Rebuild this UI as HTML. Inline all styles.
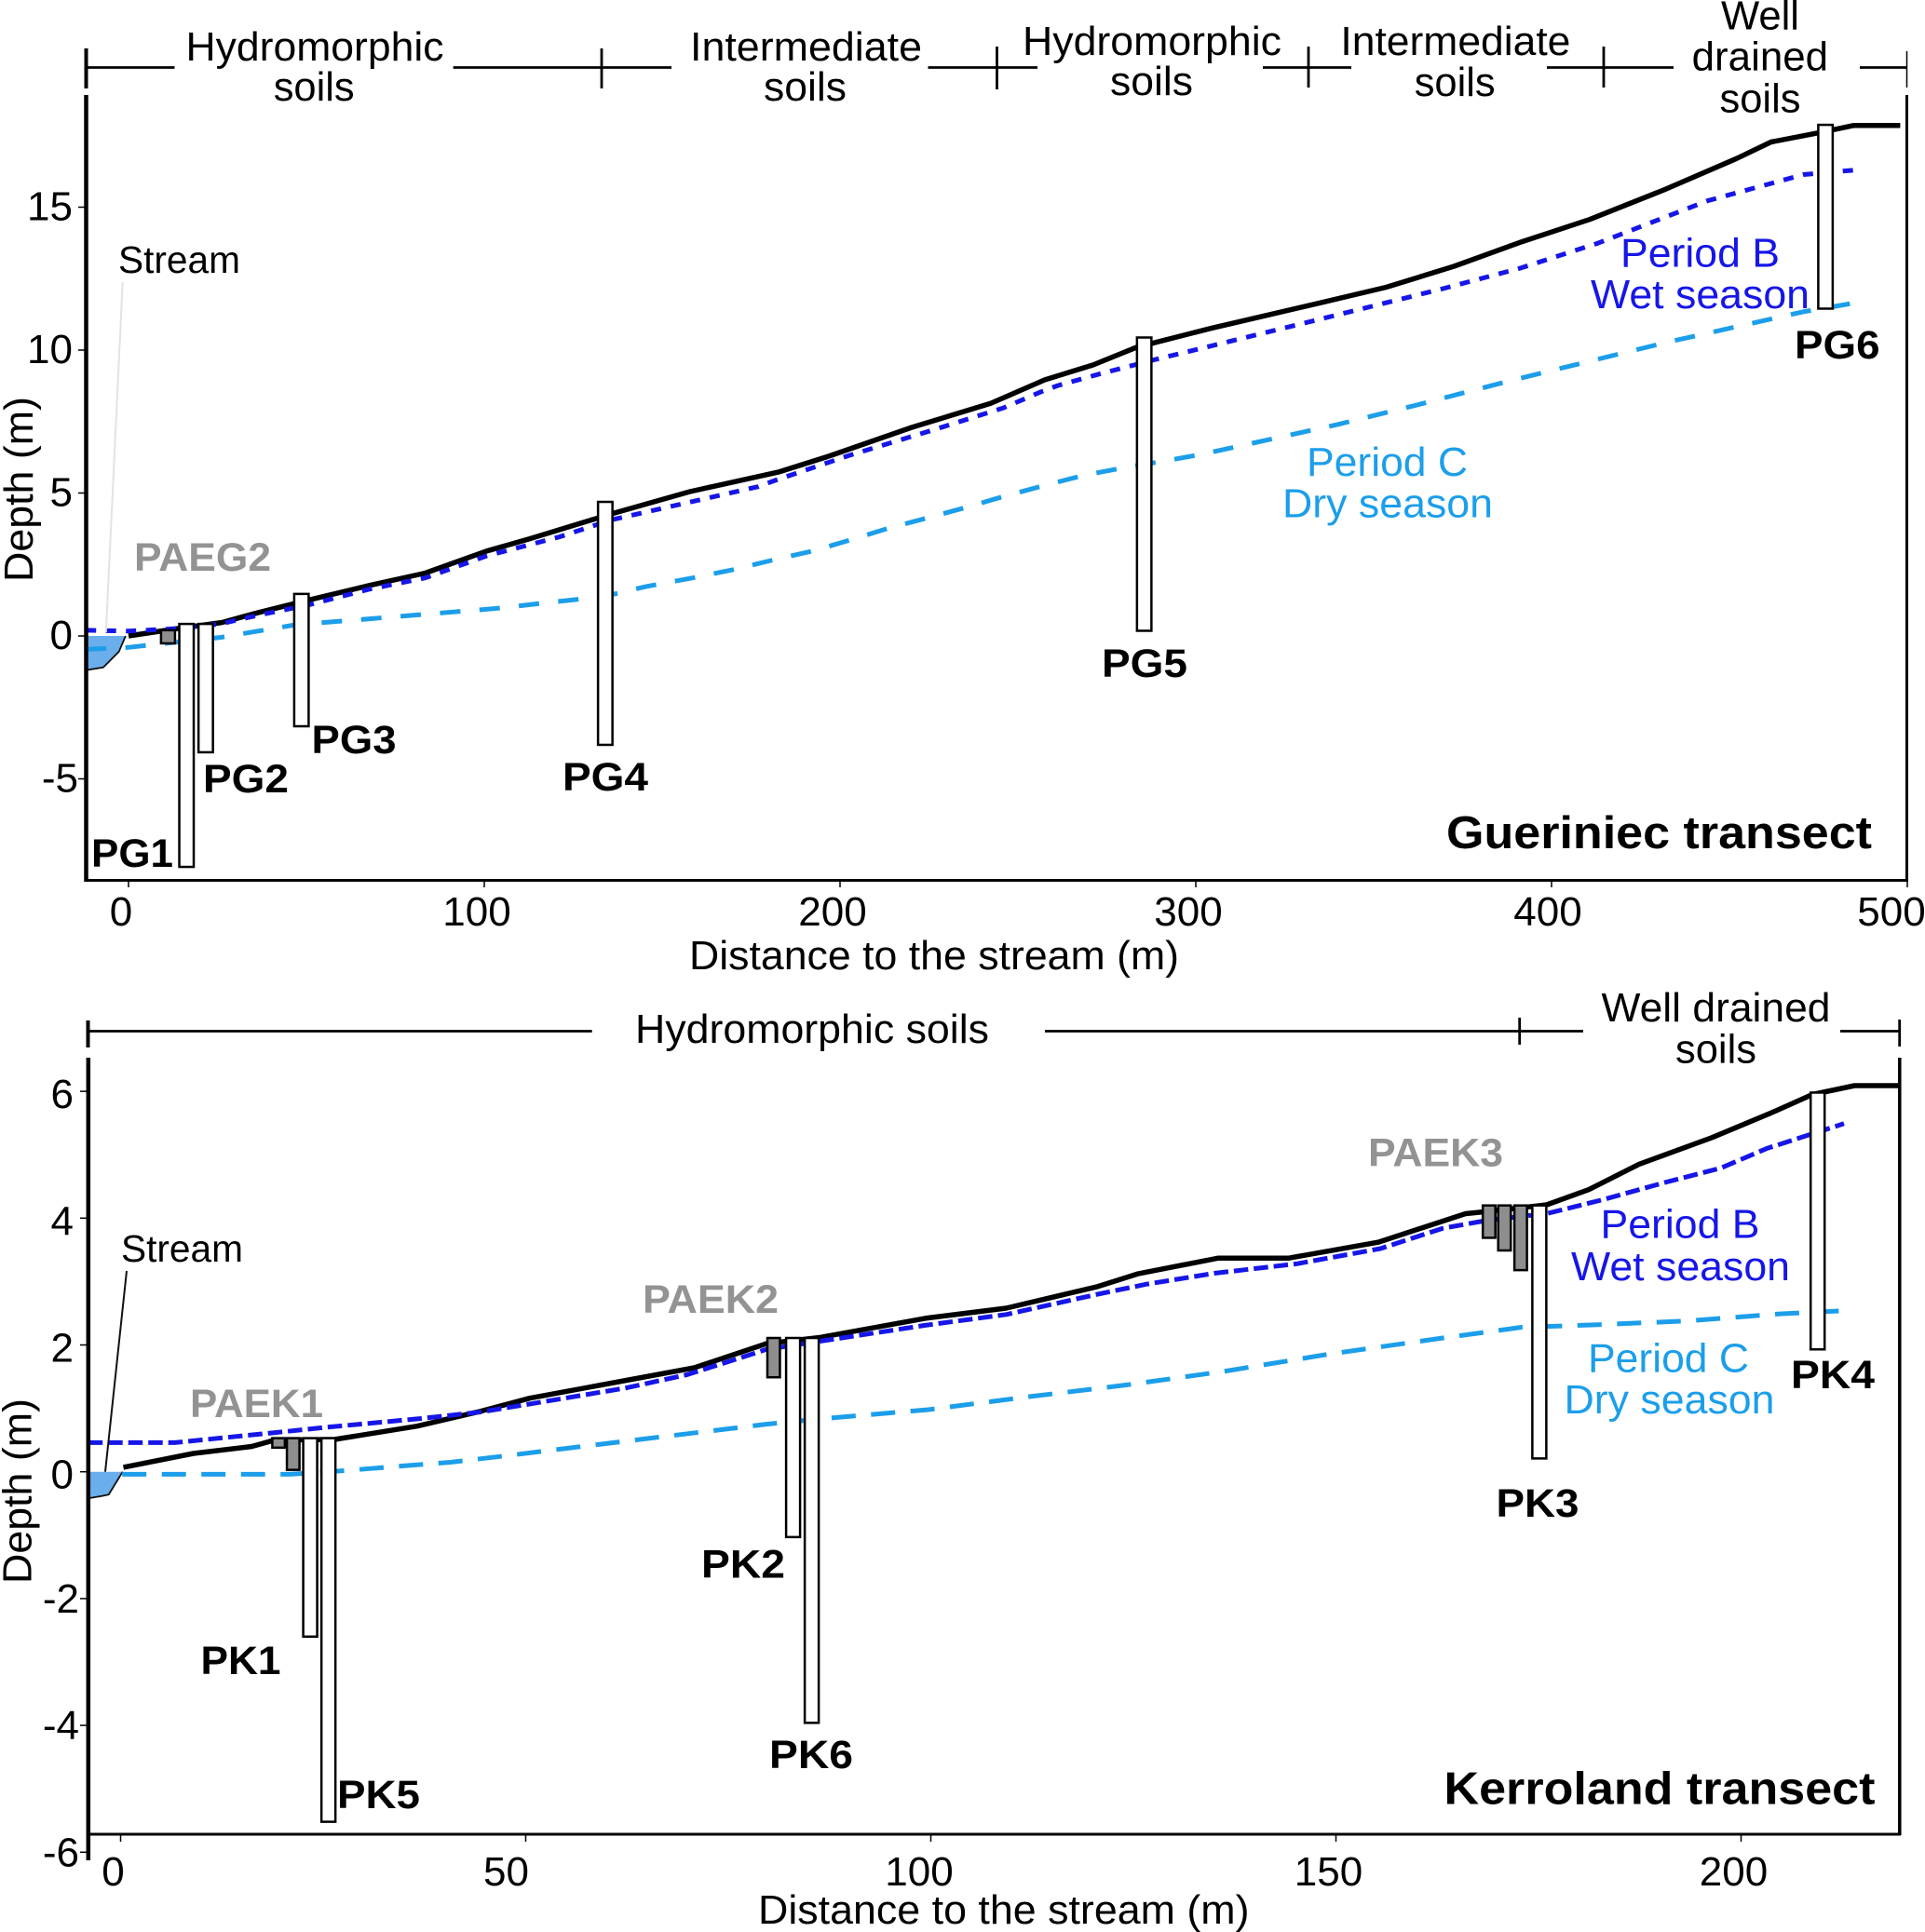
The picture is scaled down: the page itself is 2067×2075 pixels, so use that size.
<!DOCTYPE html>
<html lang="en">
<head>
<meta charset="utf-8">
<title>Gueriniec and Kerroland transects</title>
<style>
html,body{margin:0;padding:0;background:#fff;width:2067px;height:2075px;overflow:hidden}
svg{display:block}
text{font-family:"Liberation Sans",sans-serif;fill:#000}
.lab{font-size:44px}
.well{font-size:43px;font-weight:bold}
.pae{font-size:43px;font-weight:bold;fill:#939393}
.title{font-size:49px;font-weight:bold}
.wet{font-size:44px;fill:#1616e8}
.dry{font-size:44px;fill:#1c9eea}
.tick{font-size:44px}
.str{font-size:41px}
.br{stroke:#000;stroke-width:2.8;fill:none}
</style>
</head>
<body>
<svg id="chart" xmlns="http://www.w3.org/2000/svg" width="2067" height="2075" viewBox="0 0 2067 2075">
<rect x="0" y="0" width="2067" height="2075" fill="#fff"/>

<g id="p1">
  <g id="p1-stream"></g>
  <g id="p1-lines"></g>
  <g id="p1-wells"></g>
  <g id="p1-axes"></g>
  <line x1="92.5" y1="102" x2="92.5" y2="947" stroke="#000" stroke-width="4.5"/>
  <line x1="2047.5" y1="102" x2="2047.5" y2="947" stroke="#000" stroke-width="3"/>
  <line x1="92" y1="945.5" x2="2049" y2="945.5" stroke="#000" stroke-width="3"/>

  <g>
    <path class="br" d="M92 72.5H187.5M486.6 72.5H721M996.5 72.5H1114M1356 72.5H1451M1661 72.5H1797M1997 72.5H2048"/>
    <path class="br" d="M646 52V95M1070.5 50V96M1405 50V94M1722 50V94"/>
    <path d="M92.5 52V95" stroke="#000" stroke-width="4" fill="none"/>
    <path d="M2047.5 55V94" stroke="#000" stroke-width="1.5" fill="none"/>
    <text class="lab" x="199.5" y="65" textLength="277" lengthAdjust="spacingAndGlyphs">Hydromorphic</text>
    <text class="lab" x="293.7" y="108" textLength="87" lengthAdjust="spacingAndGlyphs">soils</text>
    <text class="lab" x="741" y="65" textLength="249" lengthAdjust="spacingAndGlyphs">Intermediate</text>
    <text class="lab" x="820" y="108" textLength="89" lengthAdjust="spacingAndGlyphs">soils</text>
    <text class="lab" x="1098" y="59" textLength="278" lengthAdjust="spacingAndGlyphs">Hydromorphic</text>
    <text class="lab" x="1192" y="102" textLength="89" lengthAdjust="spacingAndGlyphs">soils</text>
    <text class="lab" x="1439.4" y="59" textLength="247" lengthAdjust="spacingAndGlyphs">Intermediate</text>
    <text class="lab" x="1518.7" y="103" textLength="87" lengthAdjust="spacingAndGlyphs">soils</text>
    <text class="lab" x="1848" y="31.5" textLength="84" lengthAdjust="spacingAndGlyphs">Well</text>
    <text class="lab" x="1816.6" y="75.7" textLength="146.5" lengthAdjust="spacingAndGlyphs">drained</text>
    <text class="lab" x="1846.5" y="120.5" textLength="87" lengthAdjust="spacingAndGlyphs">soils</text>
  </g>

  <text class="lab" x="740" y="1041" textLength="526" lengthAdjust="spacingAndGlyphs">Distance to the stream (m)</text>
  <text class="lab" transform="translate(35,625) rotate(-90)" textLength="199" lengthAdjust="spacingAndGlyphs">Depth (m)</text>

  <line x1="131.7" y1="303" x2="113.8" y2="679" stroke="#e3e3e3" stroke-width="2"/>
  <text class="str" x="127" y="293" textLength="131" lengthAdjust="spacingAndGlyphs">Stream</text>
  <text class="pae" x="144" y="613" textLength="147" lengthAdjust="spacingAndGlyphs">PAEG2</text>
  <text class="well" x="98" y="931" textLength="88" lengthAdjust="spacingAndGlyphs">PG1</text>
  <text class="well" x="218" y="851" textLength="92" lengthAdjust="spacingAndGlyphs">PG2</text>
  <text class="well" x="334.5" y="809" textLength="91" lengthAdjust="spacingAndGlyphs">PG3</text>
  <text class="well" x="604" y="849" textLength="92" lengthAdjust="spacingAndGlyphs">PG4</text>
  <text class="well" x="1183" y="727" textLength="92" lengthAdjust="spacingAndGlyphs">PG5</text>
  <text class="well" x="1927" y="385" textLength="91.5" lengthAdjust="spacingAndGlyphs">PG6</text>
  <text class="wet" x="1740" y="286.7" textLength="171" lengthAdjust="spacingAndGlyphs">Period B</text>
  <text class="wet" x="1708" y="331" textLength="235" lengthAdjust="spacingAndGlyphs">Wet season</text>
  <text class="dry" x="1403" y="511" textLength="173" lengthAdjust="spacingAndGlyphs">Period C</text>
  <text class="dry" x="1377" y="555.5" textLength="226" lengthAdjust="spacingAndGlyphs">Dry season</text>
  <text class="title" x="1553" y="911" textLength="457" lengthAdjust="spacingAndGlyphs">Gueriniec transect</text>
</g>

<g id="p2">
  <g id="p2-stream"></g>
  <g id="p2-lines"></g>
  <g id="p2-wells"></g>
  <g id="p2-axes"></g>
  <line x1="94.8" y1="1136" x2="94.8" y2="1998" stroke="#000" stroke-width="4.5"/>
  <line x1="2039.8" y1="1136" x2="2039.8" y2="1971" stroke="#000" stroke-width="3.5"/>
  <line x1="94" y1="1970" x2="2041" y2="1970" stroke="#000" stroke-width="3"/>

  <g>
    <path class="br" d="M94 1107.5H635.7M1122 1107.5H1700M1976 1107.5H2040"/>
    <path class="br" d="M1631.7 1093V1122M2039.7 1095V1124"/>
    <path d="M94.5 1096V1125" stroke="#000" stroke-width="4" fill="none"/>
    <text class="lab" x="682" y="1120" textLength="380" lengthAdjust="spacingAndGlyphs">Hydromorphic soils</text>
    <text class="lab" x="1719.5" y="1097" textLength="246" lengthAdjust="spacingAndGlyphs">Well drained</text>
    <text class="lab" x="1799" y="1141.5" textLength="87" lengthAdjust="spacingAndGlyphs">soils</text>
  </g>

  <text class="lab" x="814" y="2066" textLength="527.5" lengthAdjust="spacingAndGlyphs">Distance to the stream (m)</text>
  <text class="lab" transform="translate(33.5,1701) rotate(-90)" textLength="199" lengthAdjust="spacingAndGlyphs">Depth (m)</text>

  <line x1="136" y1="1365" x2="113" y2="1580.7" stroke="#111" stroke-width="2"/>
  <text class="str" x="130" y="1355" textLength="131" lengthAdjust="spacingAndGlyphs">Stream</text>
  <text class="pae" x="204" y="1522" textLength="143" lengthAdjust="spacingAndGlyphs">PAEK1</text>
  <text class="pae" x="690" y="1410" textLength="146" lengthAdjust="spacingAndGlyphs">PAEK2</text>
  <text class="pae" x="1469" y="1252.6" textLength="145" lengthAdjust="spacingAndGlyphs">PAEK3</text>
  <text class="well" x="215.5" y="1798" textLength="86" lengthAdjust="spacingAndGlyphs">PK1</text>
  <text class="well" x="753" y="1694.5" textLength="90" lengthAdjust="spacingAndGlyphs">PK2</text>
  <text class="well" x="1606.5" y="1629" textLength="89" lengthAdjust="spacingAndGlyphs">PK3</text>
  <text class="well" x="1923" y="1491" textLength="90" lengthAdjust="spacingAndGlyphs">PK4</text>
  <text class="well" x="362" y="1942" textLength="89" lengthAdjust="spacingAndGlyphs">PK5</text>
  <text class="well" x="826" y="1899" textLength="90" lengthAdjust="spacingAndGlyphs">PK6</text>
  <text class="wet" x="1718.5" y="1329.7" textLength="171" lengthAdjust="spacingAndGlyphs">Period B</text>
  <text class="wet" x="1687" y="1374.8" textLength="235" lengthAdjust="spacingAndGlyphs">Wet season</text>
  <text class="dry" x="1705" y="1473.5" textLength="173" lengthAdjust="spacingAndGlyphs">Period C</text>
  <text class="dry" x="1679.5" y="1518" textLength="226" lengthAdjust="spacingAndGlyphs">Dry season</text>
  <text class="title" x="1550.5" y="1937.6" textLength="463" lengthAdjust="spacingAndGlyphs">Kerroland transect</text>
</g>
</svg>

<script>
// ---- Gueriniec transect data (distance m, elevation m) ----
const gGroundDist = [0,14,26.2,36.6,50.5,67.8,83.4,100.7,112.8,136,157.8,182.9,196.9,220.3,242.4,257.6,271.1,283.4,304.2,334.5,353.5,372.6,391.7,410.7,431.5,452,461.7,475,485,498];
const gGroundElev = [0,0.26,0.47,0.82,1.25,1.77,2.2,2.97,3.4,4.28,5.05,5.74,6.29,7.3,8.14,8.96,9.48,10.1,10.76,11.64,12.2,12.93,13.79,14.57,15.6,16.7,17.28,17.6,17.86,17.86];
const gWetDist = [-12,0,14,26.2,36.6,50.5,67.8,83.4,100.7,121,136,177,181.7,202.7,226,246,256.5,261.2,272.8,288,304.2,336.2,369.5,391.3,413,443.8,470.8,485.4];
const gWetElev = [0.2,0.17,0.26,0.43,0.73,1.08,1.64,2.03,2.8,3.46,4.07,5.22,5.44,6.32,7.2,7.98,8.54,8.76,9.16,9.65,10.14,11.12,12.15,12.87,13.74,15.22,16.14,16.3];
const gDryDist = [-12,0,26,47,67.8,102.4,133.6,145.5,159.4,170,181,192.3,202.7,213.9,224.9,235.5,246,257,268.2,278.7,290.3,301.5,340,361.8,388.8,432,470.7,488];
const gDryElev = [-0.47,-0.4,-0.05,0.39,0.6,0.95,1.38,1.73,2.05,2.32,2.65,2.97,3.35,3.78,4.14,4.5,4.88,5.25,5.61,5.86,6.1,6.35,7.4,8.07,8.94,10.26,11.34,11.71];
const gStreamDist = [-12,-0.8,-2.7,-7.1,-12];
const gStreamElev = [0,0,-0.55,-1.1,-1.2];
const gWellNames = ['pg1','pg2','pg3','pg4','pg5','pg6'];
const gWellDist = [16.3,21.7,48.6,134,285.5,477];
const gWellTop = [0.42,0.42,1.47,4.69,10.44,17.88];
const gWellBottom = [-8.08,-4.07,-3.16,-3.81,0.18,11.45];
const gPaeNames = ['paeg2'];
const gPaeDist = [11.1];
const gPaeTop = [0.2];
const gPaeBottom = [-0.26];
const gXTicks = [0,100,200,300,400,500];
const gYTicks = [15,10,5,0,-5];

// ---- Kerroland transect data (distance m, elevation m) ----
const kGroundDist = [0.35,9,16.2,19,26.4,36.6,44.3,50.5,70.8,79.7,86.4,99.3,109.3,120.6,125.5,135.5,144.2,155.2,166,168.3,176,181.2,187.4,196.4,203.7,208.8,214,219.6];
const kGroundElev = [0.07,0.29,0.4,0.5,0.51,0.72,0.95,1.16,1.64,2.02,2.12,2.42,2.58,2.92,3.12,3.37,3.37,3.62,4.07,4.1,4.21,4.45,4.85,5.27,5.66,5.95,6.09,6.09];
const kWetDist = [-4,6.7,18.4,25.3,37.1,44.3,51,62.3,69.9,74.6,79.7,86.4,99.3,109.3,120.6,126.7,135,145.2,155.5,163.2,168.9,176,182.9,190.8,197.5,203.2,212.7];
const kWetElev = [0.46,0.46,0.61,0.7,0.84,0.94,1.08,1.32,1.53,1.72,1.93,2.06,2.31,2.48,2.8,2.96,3.13,3.28,3.52,3.84,3.97,4.07,4.29,4.57,4.79,5.1,5.49];
const kDryDist = [0.2,20.9,27.9,35.6,40.7,47.4,60.2,70,79.7,86.9,99.7,111.9,124.2,136,148.9,163.2,173,178,182.4,193.6,204.8,212.7];
const kDryElev = [-0.04,-0.04,0.02,0.1,0.15,0.25,0.45,0.6,0.75,0.84,0.98,1.18,1.37,1.58,1.85,2.11,2.28,2.3,2.32,2.38,2.49,2.54];
const kStreamDist = [-4,0.25,-1.47,-2.24,-4];
const kStreamElev = [0,0,-0.36,-0.38,-0.42];
const kWellNames = ['pk1','pk5','pk2','pk6','pk3','pk4'];
const kWellDist = [23.4,25.65,83,85.3,175.1,209.45];
const kWellTop = [0.53,0.53,2.11,2.11,4.2,5.98];
const kWellBottom = [-2.6,-5.52,-1.03,-3.96,0.21,1.93];
const kPaeNames = ['paek1-a','paek1-b','paek2','paek3-a','paek3-b','paek3-c'];
const kPaeDist = [19.5,21.3,80.6,168.9,170.8,172.8];
const kPaeTop = [0.53,0.53,2.11,4.2,4.2,4.2];
const kPaeBottom = [0.38,0.03,1.49,3.69,3.49,3.18];
const kXTicks = [0,50,100,150,200];
const kYTicks = [6,4,2,0,-2,-4,-6];

const NS = 'http://www.w3.org/2000/svg';

// axis functions
function gx(m){ return 138 + 3.82 * m; }
function gy(d){ return 683 - 30.7 * d; }
function kx(m){ return 129.5 + 8.7 * m; }
function ky(d){ return 1580.7 - 68.1 * d; }

function pointsOf(xs, ys, fx, fy){
  return xs.map(function(v, i){ return fx(v).toFixed(1) + ',' + fy(ys[i]).toFixed(1); }).join(' ');
}

function drawSeries(parentId, name, xs, ys, fx, fy, color, width, dash){
  const el = document.createElementNS(NS, 'polyline');
  
  
  el.setAttribute('points', pointsOf(xs, ys, fx, fy));
  el.setAttribute('fill', 'none');
  el.setAttribute('stroke', color);
  el.setAttribute('stroke-width', width);
  el.setAttribute('stroke-linejoin', 'round');
  if (dash) el.setAttribute('stroke-dasharray', dash);
  document.getElementById(parentId).appendChild(el);
}

function drawStream(parentId, name, xs, ys, fx, fy){
  const poly = document.createElementNS(NS, 'polygon');
  
  
  poly.setAttribute('points', pointsOf(xs, ys, fx, fy));
  poly.setAttribute('fill', '#6aaeeb');
  document.getElementById(parentId).appendChild(poly);
  const bed = document.createElementNS(NS, 'polyline');
  
  
  bed.setAttribute('points', pointsOf(xs.slice(1), ys.slice(1), fx, fy));
  bed.setAttribute('fill', 'none');
  bed.setAttribute('stroke', '#111');
  bed.setAttribute('stroke-width', '1.8');
  document.getElementById(parentId).appendChild(bed);
}

function drawWells(parentId, names, dist, top, bottom, fx, fy, fill, width, sw){
  names.forEach(function(n, i){
    const r = document.createElementNS(NS, 'rect');
    
    
    r.setAttribute('x', fx(dist[i]) - width / 2);
    r.setAttribute('y', fy(top[i]));
    r.setAttribute('width', width);
    r.setAttribute('height', fy(bottom[i]) - fy(top[i]));
    r.setAttribute('fill', fill);
    r.setAttribute('stroke', '#000');
    r.setAttribute('stroke-width', sw);
    document.getElementById(parentId).appendChild(r);
  });
}

function drawXTicks(parentId, prefix, ticks, fx, axisY, baseY, nudge){
  ticks.forEach(function(v){
    const t = document.createElementNS(NS, 'line');
    
    
    t.setAttribute('x1', fx(v));
    t.setAttribute('x2', fx(v));
    t.setAttribute('y1', axisY);
    t.setAttribute('y2', axisY + 7);
    t.setAttribute('stroke', '#000');
    t.setAttribute('stroke-width', '1.5');
    document.getElementById(parentId).appendChild(t);
    const l = document.createElementNS(NS, 'text');
    
    
    l.setAttribute('class', 'tick');
    l.setAttribute('text-anchor', 'middle');
    l.setAttribute('x', fx(v) + nudge(v));
    l.setAttribute('y', baseY);
    l.textContent = String(v);
    document.getElementById(parentId).appendChild(l);
  });
}

function drawYTicks(parentId, prefix, ticks, fy, axisX, endPos, endNeg, dyPos, dyNeg){
  ticks.forEach(function(v){
    const t = document.createElementNS(NS, 'line');
    
    
    t.setAttribute('x1', axisX - 7);
    t.setAttribute('x2', axisX);
    t.setAttribute('y1', fy(v));
    t.setAttribute('y2', fy(v));
    t.setAttribute('stroke', '#000');
    t.setAttribute('stroke-width', '1.5');
    document.getElementById(parentId).appendChild(t);
    const l = document.createElementNS(NS, 'text');
    
    
    l.setAttribute('class', 'tick');
    l.setAttribute('text-anchor', 'end');
    l.setAttribute('x', v < 0 ? endNeg : endPos);
    l.setAttribute('y', fy(v) + (v < 0 ? dyNeg : dyPos));
    l.textContent = String(v);
    document.getElementById(parentId).appendChild(l);
  });
}

// Gueriniec panel
drawSeries('p1-lines', 'gueriniec-period-c-line', gDryDist, gDryElev, gx, gy, '#1c9eea', 5, '22 20.5');
drawStream('p1-stream', 'gueriniec-stream', gStreamDist, gStreamElev, gx, gy);
drawSeries('p1-lines', 'gueriniec-ground-line', gGroundDist, gGroundElev, gx, gy, '#000', 5.5, null);
drawSeries('p1-lines', 'gueriniec-period-b-line', gWetDist, gWetElev, gx, gy, '#1616e8', 5, '11 10.5');
drawWells('p1-wells', gPaeNames, gPaeDist, gPaeTop, gPaeBottom, gx, gy, '#8e8e8e', 15, 2.5);
drawWells('p1-wells', gWellNames, gWellDist, gWellTop, gWellBottom, gx, gy, '#fff', 15.5, 2.5);
drawXTicks('p1-axes', 'gueriniec', gXTicks, gx, 946, 994, function(v){ return v === 500 ? -17 : (v === 400 ? -4 : -8); });
drawYTicks('p1-axes', 'gueriniec', gYTicks, gy, 91, 78, 84, 14, 14);

// Kerroland panel
drawSeries('p2-lines', 'kerroland-period-c-line', kDryDist, kDryElev, kx, ky, '#1c9eea', 5, '26 16.5');
drawStream('p2-stream', 'kerroland-stream', kStreamDist, kStreamElev, kx, ky);
drawSeries('p2-lines', 'kerroland-ground-line', kGroundDist, kGroundElev, kx, ky, '#000', 5.5, null);
drawSeries('p2-lines', 'kerroland-period-b-line', kWetDist, kWetElev, kx, ky, '#1616e8', 5, '15.5 6');
drawWells('p2-wells', kPaeNames, kPaeDist, kPaeTop, kPaeBottom, kx, ky, '#8e8e8e', 13.5, 2.5);
drawWells('p2-wells', kWellNames, kWellDist, kWellTop, kWellBottom, kx, ky, '#fff', 15, 2.5);
drawXTicks('p2-axes', 'kerroland', kXTicks, kx, 1971, 2025, function(v){ return v === 50 ? -21 : (v === 100 ? -12.5 : -8); });
drawYTicks('p2-axes', 'kerroland', kYTicks, ky, 93, 79, 85, 18, 15);
</script>
</body>
</html>
